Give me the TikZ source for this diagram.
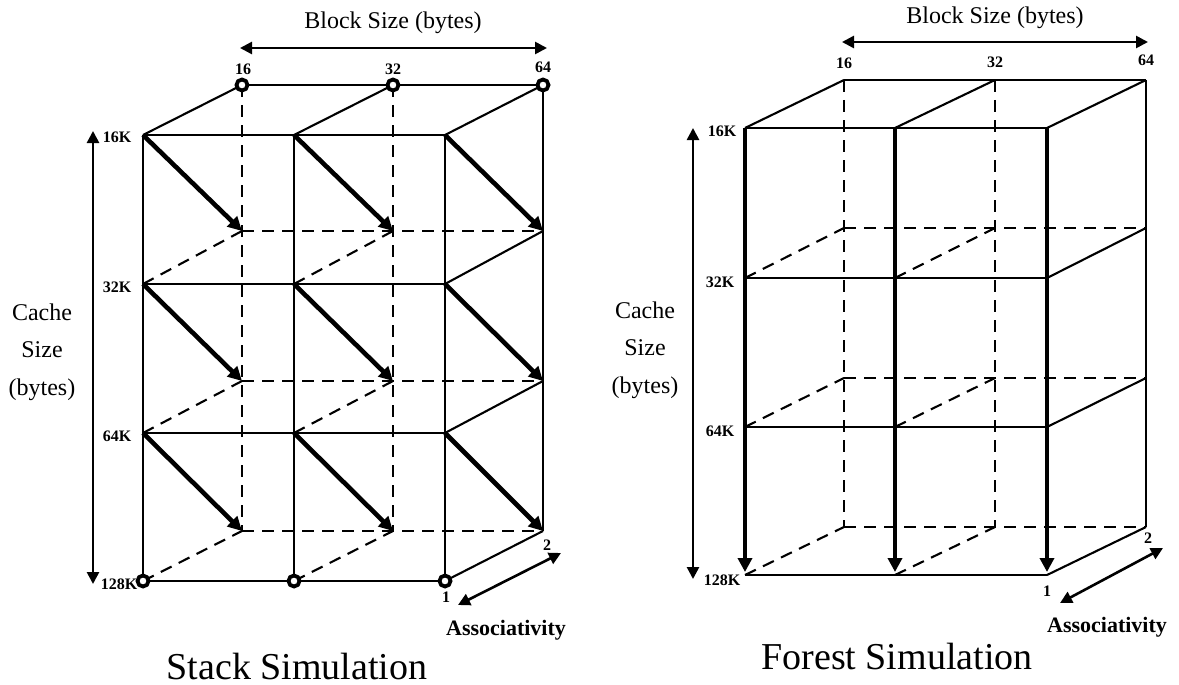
\documentclass[tikz,border=0pt]{standalone}
\usepackage{fontspec}
\setmainfont{Liberation Serif}
\usetikzlibrary{arrows.meta}
\begin{document}
\begin{tikzpicture}[x=1pt,y=-1pt,
  edge/.style={line width=2.1pt},
  hidden/.style={line width=2.1pt, dash pattern=on 12pt off 8pt},
  flow/.style={line width=4.6pt, -{Triangle[length=14pt,width=14pt]}},
  axis/.style={line width=2.6pt, {Triangle[length=12pt,width=12pt]}-{Triangle[length=12pt,width=12pt]}},
  ring/.style={circle, draw, line width=3.8pt, fill=white, minimum size=11pt, inner sep=0pt},
  tick/.style={font=\fontsize{16}{16}\selectfont\bfseries, inner sep=0pt},
  axlabel/.style={font=\fontsize{24}{24}\selectfont, inner sep=0pt},
  cachelabel/.style={font=\fontsize{24}{37.5}\selectfont, align=center, inner sep=0pt},
  titlelabel/.style={font=\fontsize{38}{38}\selectfont, inner sep=0pt},
  assolabel/.style={font=\fontsize{22}{22}\selectfont\bfseries, inner sep=0pt}
]
\useasboundingbox (0,0) rectangle (1179,685);

% ---------------- grid coordinates ----------------
\foreach \i/\fx/\bx in {0/143/242,1/294/393,2/445/543}
  \foreach \j/\fy/\by in {0/135/85,1/284/231,2/433/381,3/581/531}
  { \coordinate (LF\i\j) at (\fx,\fy); \coordinate (LB\i\j) at (\bx,\by); }
\foreach \i/\fx/\bx in {0/745/844,1/895/995,2/1047/1146}
  \foreach \j/\fy/\by in {0/128/80,1/278/228,2/427/378,3/575/527}
  { \coordinate (RF\i\j) at (\fx,\fy); \coordinate (RB\i\j) at (\bx,\by); }

% ================= LEFT: Stack Simulation =================
% back (hidden) lines
\foreach \i in {0,1} \draw[hidden] (LB\i0) -- (LB\i3);
\foreach \j in {1,2,3} {
  \draw[hidden] (LB0\j) -- (LB2\j);
  \draw[hidden] (LF0\j) -- (LB0\j);
  \draw[hidden] (LF1\j) -- (LB1\j);
}
% visible edges
\draw[edge] (LB00) -- (LB20);
\draw[edge] (LB20) -- (LB23);
\foreach \i in {0,1,2} {
  \draw[edge] (LF\i0) -- (LB\i0);
  \draw[edge] (LF\i0) -- (LF\i3);
}
\foreach \j in {0,1,2,3} \draw[edge] (LF0\j) -- (LF2\j);
\foreach \j in {1,2,3} \draw[edge] (LF2\j) -- (LB2\j);
% stack arrows
\foreach \i in {0,1,2}
  \foreach \j/\k in {0/1,1/2,2/3}
    \draw[flow] (LF\i\j) -- (LB\i\k);
% rings
\foreach \i in {0,1,2} {
  \node[ring] (LringT\i) at (LB\i0) {};
  \node[ring] (LringB\i) at (LF\i3) {};
}
% axes
\coordinate (LbsA) at (240,48);  \coordinate (LbsB) at (547,48);
\draw[axis] (LbsA) -- (LbsB);
\coordinate (LcsA) at (93,131);  \coordinate (LcsB) at (93,584);
\draw[axis] (LcsA) -- (LcsB);
\coordinate (LasA) at (458,605); \coordinate (LasB) at (561,553);
\draw[axis] (LasA) -- (LasB);
% labels
\node[axlabel] (Lbs) at (393,23) {Block Size (bytes)};
\node[tick] (L16) at (243,69) {16};
\node[tick] (L32) at (393,69) {32};
\node[tick] (L64) at (543,67) {64};
\node[tick] (L16K) at (117,137) {16K};
\node[tick] (L32K) at (117,287) {32K};
\node[tick] (L64K) at (117,436) {64K};
\node[tick] (L128K) at (119,584) {128K};
\node[cachelabel] (Lcache) at (42,352) {Cache\\Size\\(bytes)};
\node[tick] (Lone) at (446,597) {1};
\node[tick] (Ltwo) at (547,545) {2};
\node[assolabel] (Lasso) at (506,630) {Associativity};
\node[titlelabel] (Ltitle) at (297,666) {Stack Simulation};

% ================= RIGHT: Forest Simulation =================
\foreach \i in {0,1} \draw[hidden] (RB\i0) -- (RB\i3);
\foreach \j in {1,2,3} {
  \draw[hidden] (RB0\j) -- (RB2\j);
  \draw[hidden] (RF0\j) -- (RB0\j);
  \draw[hidden] (RF1\j) -- (RB1\j);
}
\draw[edge] (RB00) -- (RB20);
\draw[edge] (RB20) -- (RB23);
\foreach \i in {0,1,2} \draw[edge] (RF\i0) -- (RB\i0);
\foreach \j in {0,1,2,3} \draw[edge] (RF0\j) -- (RF2\j);
\foreach \j in {1,2,3} \draw[edge] (RF2\j) -- (RB2\j);
\foreach \i in {0,1,2} \draw[flow] (RF\i0) -- ([yshift=3pt]RF\i3);
% axes
\coordinate (RbsA) at (842,42);  \coordinate (RbsB) at (1148,42);
\draw[axis] (RbsA) -- (RbsB);
\coordinate (RcsA) at (693,128); \coordinate (RcsB) at (693,579);
\draw[axis] (RcsA) -- (RcsB);
\coordinate (RasA) at (1060,603); \coordinate (RasB) at (1163,548);
\draw[axis] (RasA) -- (RasB);
% labels
\node[axlabel] (Rbs) at (995,18) {Block Size (bytes)};
\node[tick] (R16) at (844,63) {16};
\node[tick] (R32) at (995,62) {32};
\node[tick] (R64) at (1146,60) {64};
\node[tick] (R16K) at (722,131) {16K};
\node[tick] (R32K) at (720,282) {32K};
\node[tick] (R64K) at (720,431) {64K};
\node[tick] (R128K) at (722,580) {128K};
\node[cachelabel] (Rcache) at (645,350) {Cache\\Size\\(bytes)};
\node[tick] (Rone) at (1047,591) {1};
\node[tick] (Rtwo) at (1148,538) {2};
\node[assolabel] (Rasso) at (1107,627) {Associativity};
\node[titlelabel] (Rtitle) at (897,656) {Forest Simulation};
\end{tikzpicture}
\end{document}
